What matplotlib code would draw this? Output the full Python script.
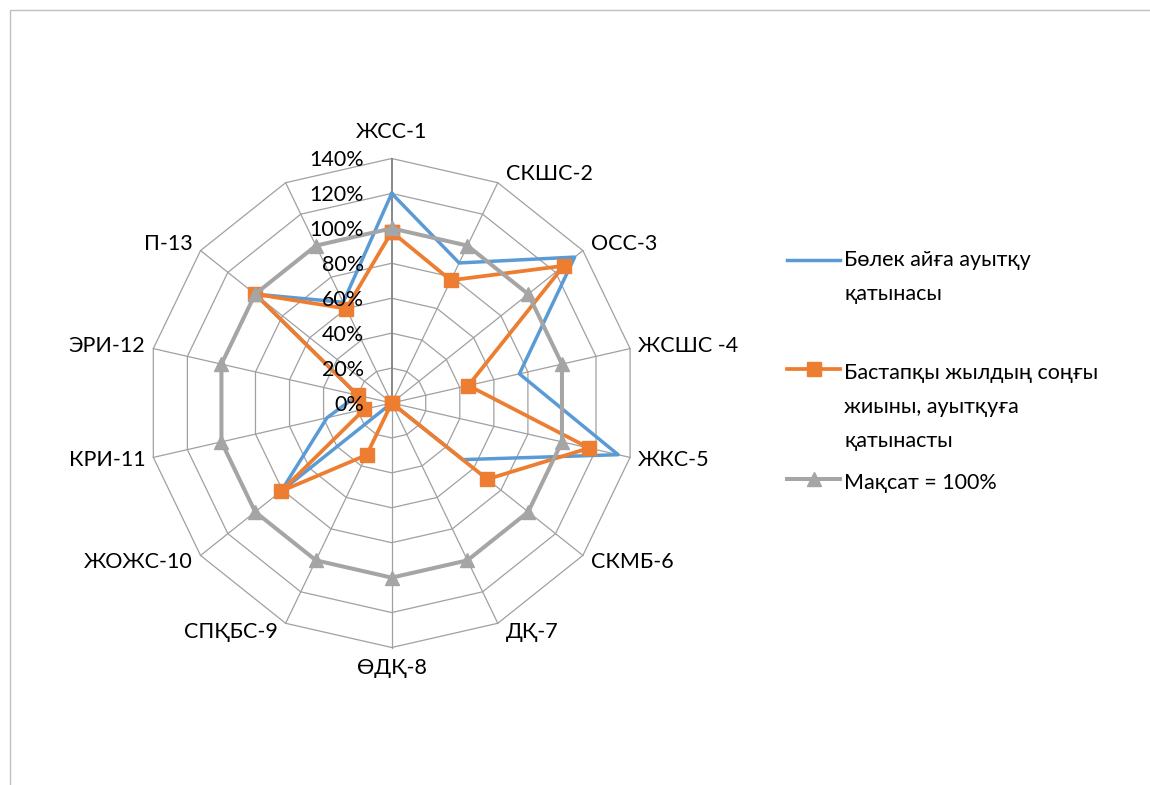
import numpy as np
import matplotlib
matplotlib.use("Agg")
import matplotlib.pyplot as plt
from matplotlib.transforms import offset_copy
from matplotlib.lines import Line2D

categories = ["ЖСС-1", "СКШС-2", "ОСС-3", "ЖСШС -4", "ЖКС-5", "СКМБ-6", "ДҚ-7",
              "ӨДҚ-8", "СПҚБС-9", "ЖОЖС-10", "КРИ-11", "ЭРИ-12", "П-13", ""]
deviation = [120, 89, 134, 75, 133, 52, 0, 0, 0, 81, 38, 20, 100, 64]
year_end = [98, 78, 126, 45, 116, 70, 0, 0, 33, 81, 16, 20, 100, 60]
target = [100] * 14
r_ticks = [0, 20, 40, 60, 80, 100, 120, 140]

series_names = [["Бөлек айға ауытқу", "қатынасы"],
                ["Бастапқы жылдың соңғы", "жиыны, ауытқуға", "қатынасты"],
                ["Мақсат = 100%"]]

BLUE, ORANGE, GRAY = "#5B9BD5", "#ED7D31", "#A5A5A5"
GRID = "#a0a0a0"
plt.rcParams["font.family"] = ["Lato", "DejaVu Sans"]
FS = 15.5

W, H = 1150, 785
fig = plt.figure(figsize=(W / 100, H / 100), dpi=100)

# chart-area border (Excel style, cut at right/bottom)
fig.add_artist(plt.Rectangle((10 / W, -0.01), 1.0, 1 - 10 / H + 0.01, transform=fig.transFigure,
                             fill=False, edgecolor="#bfbfbf", lw=1))

cx, cy, R = 391.7, 403, 244.5
ax = fig.add_axes([(cx - R) / W, 1 - (cy + R) / H, 2 * R / W, 2 * R / H], projection="polar")
ax.set_theta_offset(np.pi / 2)
ax.set_theta_direction(-1)
ax.set_ylim(0, 140)
ax.grid(False)
ax.spines["polar"].set_visible(False)
ax.set_xticks([])
ax.set_yticks([])
ax.patch.set_alpha(0)

n = len(categories)
theta = np.linspace(0, 2 * np.pi, n, endpoint=False)
theta_c = np.append(theta, theta[0])


def closed(v):
    return list(v) + [v[0]]


# polygon grid
for r in r_ticks[1:]:
    ax.plot(theta_c, [r] * (n + 1), color=GRID, lw=0.9, zorder=1, clip_on=False)
for i, t in enumerate(theta):
    ax.plot([t, t], [0, 140], color="#888888" if i == 0 else GRID,
            lw=1.4 if i == 0 else 0.9, zorder=1, clip_on=False)

# data series
ax.plot(theta_c, closed(deviation), color=BLUE, lw=2.5, zorder=3, clip_on=False)
ax.plot(theta_c, closed(year_end), color=ORANGE, lw=2.7, marker="s", ms=10.5,
        zorder=4, clip_on=False)
ax.plot(theta_c, closed(target), color=GRAY, lw=2.9, marker="^", ms=10.5,
        zorder=5, clip_on=False)

# radial tick labels
for r in r_ticks:
    tr = offset_copy(ax.transData, fig=fig, x=-28, y=-2, units="dots")
    ax.text(0, r, f"{r}%", transform=tr, ha="right", va="center", fontsize=FS, zorder=6)

# category labels
for t, name in zip(theta, categories):
    if not name:
        continue
    a = np.pi / 2 - t
    c, s = np.cos(a), np.sin(a)
    if abs(c) < 0.05:
        ha = "center"
        va = "bottom" if s > 0 else "top"
        dx, dy = 0, (17 if s > 0 else -10)
    else:
        ha = "left" if c > 0 else "right"
        va = "center"
        dx, dy = 8 * np.sign(c), 10 * s
    tr = offset_copy(ax.transData, fig=fig, x=dx, y=dy, units="dots")
    ax.text(t, 140, name, transform=tr, ha=ha, va=va, fontsize=FS)

# legend, drawn by hand so the key sits on the first text line
leg_handles = [dict(color=BLUE, marker=None, lw=2.5), dict(color=ORANGE, marker="s", lw=2.7),
               dict(color=GRAY, marker="^", lw=2.9)]
handle_y = [260, 369, 479]
first_base = [266, 379, 489]
for h, hy, by, lines in zip(leg_handles, handle_y, first_base, series_names):
    fig.add_artist(Line2D([787 / W, 840 / W], [1 - hy / H] * 2, transform=fig.transFigure,
                          color=h["color"], lw=h["lw"]))
    if h["marker"]:
        fig.add_artist(Line2D([813.5 / W], [1 - hy / H], transform=fig.transFigure,
                              color=h["color"], marker=h["marker"], ms=10.5, lw=0))
    for k, line in enumerate(lines):
        fig.text(844 / W, 1 - (by + 34 * k) / H, line, ha="left", va="baseline", fontsize=FS)

fig.savefig("out.png", dpi=100, facecolor="white")
